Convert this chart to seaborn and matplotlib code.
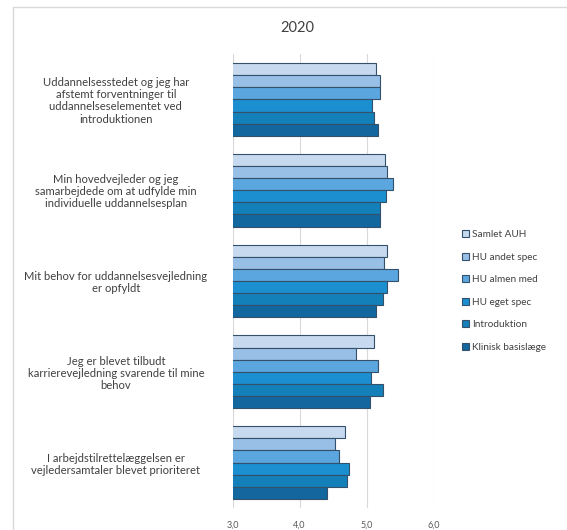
import matplotlib
matplotlib.use("Agg")
import matplotlib.pyplot as plt
from matplotlib.lines import Line2D
import pandas as pd
import seaborn as sns

# Survey statements (one group of bars each)
statements = [
    "Uddannelsesstedet og jeg har\nafstemt forventninger til\nuddannelseselementet ved\nintroduktionen",
    "Min hovedvejleder og jeg\nsamarbejdede om at udfylde min\nindividuelle uddannelsesplan",
    "Mit behov for uddannelsesvejledning\ner opfyldt",
    "Jeg er blevet tilbudt\nkarrierevejledning svarende til mine\nbehov",
    "I arbejdstilrettelæggelsen er\nvejledersamtaler blevet prioriteret",
]

groups = ["Samlet AUH", "HU andet spec", "HU almen med", "HU eget spec",
          "Introduktion", "Klinisk basislæge"]

# Mean scores per group, one value per statement
samlet_auh = [5.13, 5.27, 5.30, 5.10, 4.67]
hu_andet_spec = [5.19, 5.30, 5.25, 4.84, 4.53]
hu_almen_med = [5.19, 5.39, 5.47, 5.16, 4.58]
hu_eget_spec = [5.08, 5.29, 5.30, 5.06, 4.74]
introduktion = [5.11, 5.19, 5.24, 5.24, 4.71]
klinisk_basislaege = [5.17, 5.19, 5.14, 5.05, 4.40]

xticks = [3.0, 4.0, 5.0, 6.0]
xtick_labels = ["3,0", "4,0", "5,0", "6,0"]
title = "2020"

palette = ["#c6d9ef", "#98bfe6", "#5ba6de", "#1b8fcf", "#1480b9", "#13679f"]

series = [samlet_auh, hu_andet_spec, hu_almen_med, hu_eget_spec,
          introduktion, klinisk_basislaege]
rows = []
for g, vals in zip(groups, series):
    for s, v in zip(statements, vals):
        rows.append({"statement": s, "group": g, "score": v})
df = pd.DataFrame(rows)

sns.set_theme(style="white")
plt.rcParams["font.family"] = ["Lato", "DejaVu Sans"]

W, H = 567, 530
fig = plt.figure(figsize=(W / 100, H / 100), dpi=100)
fig.patch.set_facecolor("white")

left, right, top, bottom = 232.5, 434, 54, 508
ax = fig.add_axes([left / W, 1 - bottom / H, (right - left) / W, (bottom - top) / H])

sns.barplot(data=df, y="statement", x="score", hue="group", order=statements,
            hue_order=groups, palette=palette, saturation=1, orient="h", width=0.8,
            edgecolor="#34506b", linewidth=0.8, ax=ax, legend=True)

ax.set_xlim(3.0, 6.0)
ax.set_xticks(xticks)
ax.set_xticklabels(xtick_labels, fontsize=6.5, color="#595959")
ax.set_xlabel("")
ax.set_ylabel("")
ax.xaxis.grid(True, color="#d9d9d9", linewidth=0.8)
ax.set_axisbelow(True)
for sp in ax.spines.values():
    sp.set_visible(False)
ax.tick_params(axis="x", length=0, pad=9)
ax.tick_params(axis="y", length=0, pad=84)
for lab in ax.get_yticklabels():
    lab.set_ha("center")
    lab.set_multialignment("center")
    lab.set_fontsize(8.1)
    lab.set_color("#404040")
    lab.set_linespacing(1.12)

# Legend on the right side
handles, labels = ax.get_legend_handles_labels()
ax.get_legend().remove()
fig.legend(handles, labels, loc="upper left",
           bbox_to_anchor=(457 / W, 1 - 225 / H), frameon=False,
           fontsize=7.2, handlelength=0.7, handleheight=0.7, handletextpad=0.3,
           labelspacing=1.36, labelcolor="#404040", borderpad=0)

fig.text(297 / W, 1 - 28 / H, title, ha="center", va="center",
         fontsize=10.5, color="#404040")

# Chart frame
fig.add_artist(Line2D([13 / W, 13 / W], [0, 1 - 7 / H], transform=fig.transFigure,
                      color="#d9d9d9", linewidth=1))
fig.add_artist(Line2D([13 / W, 1], [1 - 7 / H, 1 - 7 / H], transform=fig.transFigure,
                      color="#d9d9d9", linewidth=1))

fig.savefig("out.png", dpi=100, facecolor="white")
